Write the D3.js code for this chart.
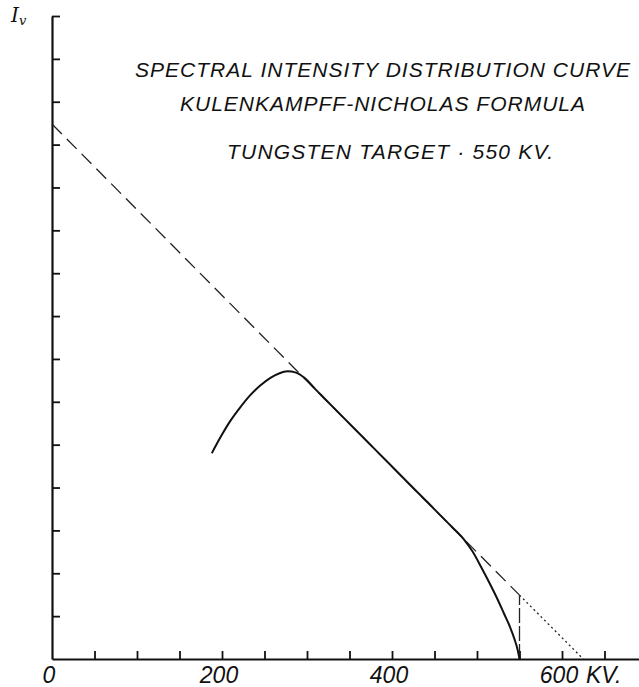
<!DOCTYPE html>
<html>
<head>
<meta charset="utf-8">
<script src="https://cdn.jsdelivr.net/npm/d3@7"></script>
<style>
  body { margin: 0; background: #fff; }
  text { font-family: "Liberation Sans", "DejaVu Sans", sans-serif; font-style: italic; fill: #111; }
</style>
</head>
<body>
<div class="chart"></div>
<script>
// spectrum curve (kV, relative intensity)
const curveKV = [188, 199, 210, 221, 233, 245, 257, 267, 277, 287, 297, 310, 320, 360, 400, 440, 470, 485, 495, 505, 515, 524, 532, 539, 544, 548, 550]
const curveI  = [4.80, 5.20, 5.56, 5.86, 6.15, 6.38, 6.56, 6.66, 6.71, 6.68, 6.56, 6.29, 6.09, 5.29, 4.49, 3.69, 3.09, 2.78, 2.50, 2.14, 1.76, 1.40, 1.05, 0.74, 0.47, 0.20, 0]

// straight Kulenkampff line: dashed up to 550 kV, dotted beyond
const lineKV = [0, 550, 625]
const lineI  = [12.48, 1.49, 0]

const cutoffKV = 550
const xTicks = d3.range(50, 700, 50)
const yTicks = d3.range(1, 16)
const xLabels = [0, 200, 400, 600]

const titles = [
  'SPECTRAL INTENSITY DISTRIBUTION CURVE',
  'KULENKAMPFF-NICHOLAS FORMULA',
  'TUNGSTEN TARGET  \u00b7 550 KV.'
]

const svg = d3.select('.chart').append('svg')
  .attr('width', 639)
  .attr('height', 687)

const x = d3.scaleLinear().domain([0, 690]).range([52, 638.5])
const y = d3.scaleLinear().domain([0, 15]).range([659, 16])

// axes
svg.append('g')
  .attr('transform', `translate(0, ${y(0)})`)
  .call(d3.axisBottom(x).tickValues(xTicks).tickSize(-8).tickSizeOuter(0).tickFormat(''))
svg.append('g')
  .attr('transform', `translate(${x(0)}, 0)`)
  .call(d3.axisLeft(y).tickValues(yTicks).tickSize(-8).tickSizeOuter(0).tickFormat(''))

svg.selectAll('.domain').attr('stroke', '#111').attr('stroke-width', 2.2)
svg.selectAll('.tick line').attr('stroke', '#111').attr('stroke-width', 1.8)

// x labels
svg.selectAll('.xlab')
  .data(xLabels)
  .enter()
  .append('text')
  .attr('class', 'xlab')
  .attr('x', d => x(d) - 3)
  .attr('y', 683)
  .attr('text-anchor', 'middle')
  .attr('font-size', 23)
  .text(d => d)
svg.append('text')
  .attr('x', x(600) + 24)
  .attr('y', 683)
  .attr('font-size', 23)
  .text('KV.')

// y label
const ylab = svg.append('text')
  .attr('x', 11)
  .attr('y', 22)
  .attr('font-size', 20)
  .style('font-family', '"DejaVu Serif", serif')
ylab.append('tspan').text('I')
ylab.append('tspan').attr('font-size', 13).attr('dy', 3).text('v')

// titles
const titleY = [77, 111, 159]
const titleX = [135, 180, 227]
const titleW = [495, 405, 326]
svg.selectAll('.title')
  .data(titles)
  .enter()
  .append('text')
  .attr('class', 'title')
  .attr('x', (d, i) => titleX[i])
  .attr('y', (d, i) => titleY[i])
  .attr('font-size', 21)
  .attr('textLength', (d, i) => titleW[i])
  .attr('lengthAdjust', 'spacing')
  .text(d => d)

// straight line
const pts = lineKV.map((d, i) => [d, lineI[i]])
const line = d3.line().x(d => x(d[0])).y(d => y(d[1]))

svg.append('path')
  .attr('d', line(pts.slice(0, 2)))
  .attr('fill', 'none')
  .attr('stroke', '#222')
  .attr('stroke-width', 1.3)
  .attr('stroke-dasharray', '14,7')
svg.append('path')
  .attr('d', line(pts.slice(1)))
  .attr('fill', 'none')
  .attr('stroke', '#222')
  .attr('stroke-width', 1.3)
  .attr('stroke-dasharray', '2,3')

// cutoff marker
svg.append('path')
  .attr('d', line([[cutoffKV, 0], [cutoffKV, lineI[1]]]))
  .attr('fill', 'none')
  .attr('stroke', '#222')
  .attr('stroke-width', 1.3)
  .attr('stroke-dasharray', '15,3')

// spectrum
const spectrum = d3.line()
  .x(d => x(d[0]))
  .y(d => y(d[1]))
  .curve(d3.curveMonotoneX)

svg.append('path')
  .attr('d', spectrum(curveKV.map((d, i) => [d, curveI[i]])))
  .attr('fill', 'none')
  .attr('stroke', '#111')
  .attr('stroke-width', 2)
</script>
</body>
</html>
